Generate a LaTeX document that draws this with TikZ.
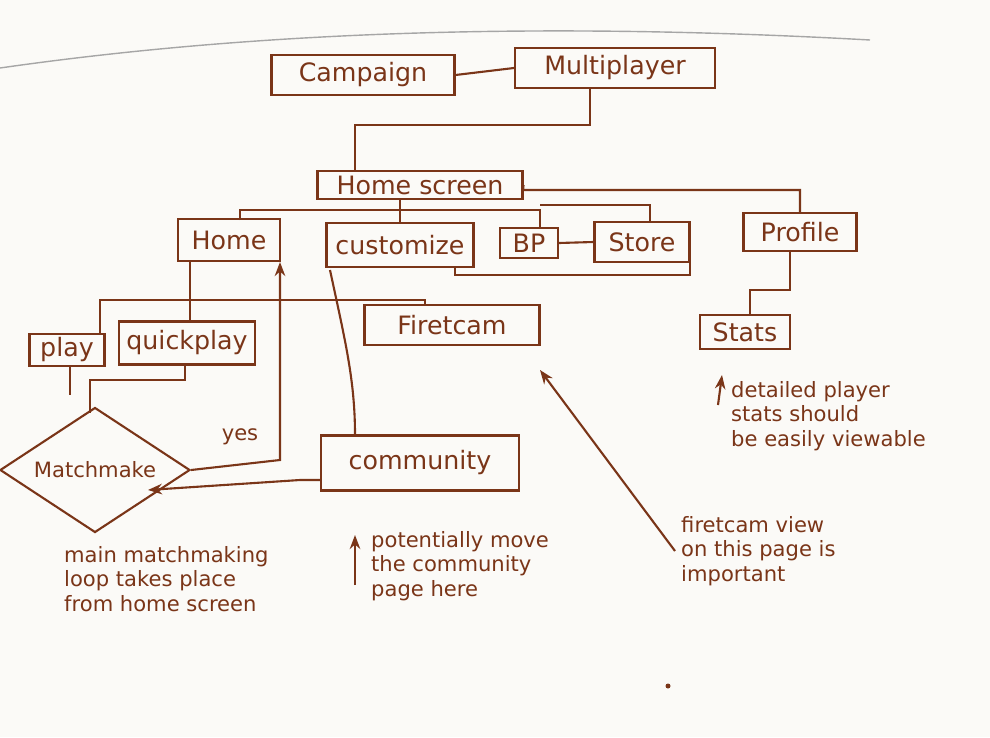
\documentclass[tikz,border=0pt]{standalone}
\usepackage{fontspec}
\setmainfont{DejaVu Sans}
\usetikzlibrary{shapes.geometric,arrows.meta}
\definecolor{ink}{HTML}{7A3518}
\definecolor{paper}{HTML}{FBFAF7}
\begin{document}
\begin{tikzpicture}[x=0.02cm,y=-0.02cm,
  box/.style={draw=ink,line width=1.2pt,text=ink,font=\Large,inner sep=4pt,minimum height=34pt},
  ln/.style={draw=ink,line width=1.2pt},
  arr/.style={draw=ink,line width=1.2pt,-{Stealth[length=8pt]}},
  note/.style={text=ink,font=\large,align=left,anchor=north west}]
\fill[paper] (0,0) rectangle (990,737);
\useasboundingbox (0,0) rectangle (990,737);
\draw[gray!70,thick] (0,68) .. controls (300,25) and (600,25) .. (870,40);
\node[box,minimum width=183*0.02cm,minimum height=40*0.02cm] (camp) at (363,75) {Campaign};
\node[box,minimum width=200*0.02cm,minimum height=40*0.02cm] (multi) at (615,68) {Multiplayer};
\node[box,minimum width=205*0.02cm,minimum height=28*0.02cm,inner sep=1pt] (hs) at (420,185) {Home screen};
\node[box,minimum width=102*0.02cm,minimum height=42*0.02cm] (home) at (229,240) {Home};
\node[box,minimum width=147*0.02cm,minimum height=44*0.02cm] (cust) at (400,245) {customize};
\node[box,minimum width=58*0.02cm,minimum height=30*0.02cm,inner sep=1pt] (bp) at (529,243) {BP};
\node[box,minimum width=95*0.02cm,minimum height=40*0.02cm] (store) at (642,242) {Store};
\node[box,minimum width=113*0.02cm,minimum height=38*0.02cm] (prof) at (800,232) {Profile};
\node[box,minimum width=90*0.02cm,minimum height=33*0.02cm] (stats) at (745,332) {Stats};
\node[box,minimum width=175*0.02cm,minimum height=40*0.02cm] (fire) at (452,325) {Firetcam};
\node[box,minimum width=75*0.02cm,minimum height=32*0.02cm,inner sep=1pt] (play) at (67,350) {play};
\node[box,minimum width=135*0.02cm,minimum height=43*0.02cm] (quick) at (187,343) {quickplay};
\node[draw=ink,line width=1.2pt,diamond,aspect=1.6,minimum width=190*0.02cm,minimum height=125*0.02cm,inner sep=0pt,text=ink,font=\large] (mm) at (95,470) {Matchmake};
\node[box,minimum width=198*0.02cm,minimum height=55*0.02cm] (comm) at (420,463) {community};
% top
\draw[ln] (camp.east) -- (multi.west);
\draw[ln] (multi.south -| 590,0) |- (355,125) -- (355,172);
% home screen branches
\coordinate (b0) at (400,210);
\draw[ln] (hs.south -| b0) -- (b0);
\draw[ln] (240,220) |- (540,210) -- (540,228);
\draw[ln] (400,210) -- (400,222);
\draw[ln] (540,205) -| (650,222);
\draw[ln] (hs.east) -- (523,190) -- (800,190) -- (prof.north);
\draw[ln] (bp.east) -- (store.west);
\draw[ln] (455,268) |- (690,275) -- (690,262);
\draw[ln] (790,251) |- (750,290) -- (stats.north -| 750,0);
% home subtree
\draw[ln] (190,261) -- (190,322);
\draw[ln] (100,334) |- (425,300) -- (425,305);
\draw[ln] (70,366) -- (70,395);
\draw[ln] (185,365) |- (90,380) -- (90,413);
\draw[arr] (mm.east) -- (280,460) -- (280,262);
\node[text=ink,font=\large] (yes) at (240,437) {yes};
\draw[ln] (330,270) .. controls (345,340) and (355,380) .. (355,435);
\draw[arr] (comm.west |- 0,480) -- (300,480) -- (148,490);
% notes
\node[note] (n1) at (58,540) {main matchmaking\\loop takes place\\from home screen};
\node[note] (n2) at (365,525) {potentially move\\the community\\page here};
\node[note] (n3) at (675,510) {firetcam view\\on this page is\\important};
\node[note] (n4) at (725,375) {detailed player\\stats should\\be easily viewable};
\coordinate (a1) at (355,535);
\draw[arr] (355,585) -- (a1);
\coordinate (a2) at (540,370);
\draw[arr] (n3.west) -- (a2);
\coordinate (a3) at (722,375);
\draw[arr] (718,405) -- (a3);
\fill[ink] (668,686) circle (2.5);
\end{tikzpicture}
\end{document}
